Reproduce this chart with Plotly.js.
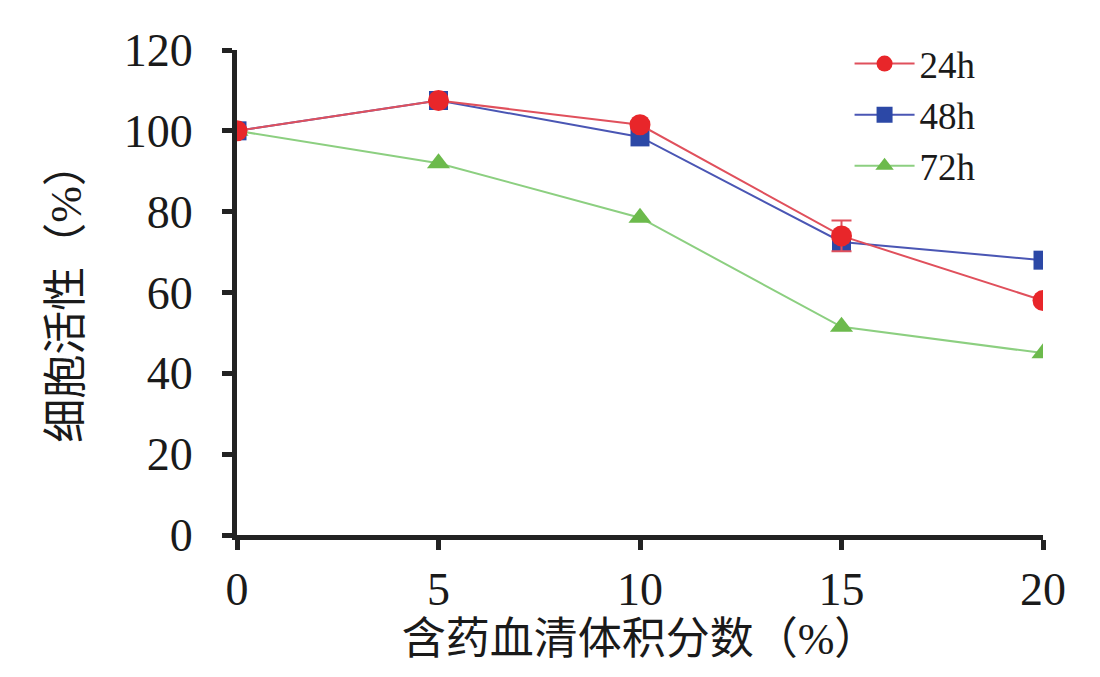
<!DOCTYPE html>
<html>
<head>
<meta charset="utf-8">
<script src="https://cdn.plot.ly/plotly-3.0.1.min.js"></script>
<style>
  html, body { margin: 0; padding: 0; background: #fff; }
  #chart { width: 1100px; height: 677px; }
</style>
</head>
<body>
<div id="chart"></div>
<script>
// serum volume fraction (%)
const doses = [0, 5, 10, 15, 20];
// cell viability (%)
const v24 = [100, 107.5, 101.5, 74, 58];
const v48 = [100, 107.5, 98.5, 72.5, 68];
const v72 = [100, 92, 78.5, 51.5, 45];
const err24 = [0, 0, 0, 3.8, 0];

const serif = '"Liberation Serif", "Noto Sans CJK SC", serif';

const trace24 = {
    name: '24h', x: doses, y: v24, type: 'scatter', mode: 'lines+markers',
    line: { color: '#e0505c', width: 2 },
    marker: { color: '#e8262a', symbol: 'circle', size: 21 },
    error_y: { type: 'data', array: err24, visible: true, color: '#e0505c', thickness: 2, width: 10 },
};
const trace48 = {
    name: '48h', x: doses, y: v48, type: 'scatter', mode: 'lines+markers',
    line: { color: '#4a56b4', width: 2 },
    marker: { color: '#2c48a6', symbol: 'square', size: 19 },
};
const trace72 = {
    name: '72h', x: doses, y: v72, type: 'scatter', mode: 'lines+markers',
    line: { color: '#8ccf80', width: 2 },
    marker: { color: '#6cba4c', symbol: 'triangle-up', size: 20 },
};

const layout = {
    width: 1100, height: 677,
    margin: { l: 237, r: 57, t: 50, b: 142 },
    paper_bgcolor: '#fff', plot_bgcolor: '#fff',
    font: { family: serif, color: '#1a1a1a', size: 40 },
    showlegend: true,
    legend: {
        x: 0.76, y: 1.035, xanchor: 'left', yanchor: 'top',
        traceorder: 'reversed',
        font: { family: serif, size: 37 },
        bgcolor: 'rgba(0,0,0,0)', tracegroupgap: 0, itemwidth: 60,
    },
    xaxis: {
        range: [0, 20], tickvals: doses, ticktext: ['0', '5', '10', '15', '20'],
        showgrid: false, zeroline: false,
        showline: true, linecolor: '#222', linewidth: 5,
        ticks: 'outside', ticklen: 10, tickwidth: 5, tickcolor: '#222',
        tickfont: { family: serif, size: 46 },
        title: { text: '含药血清体积分数（%）', font: { family: serif, size: 44 }, standoff: 2 },
    },
    yaxis: {
        range: [0, 120], tickvals: [0, 20, 40, 60, 80, 100, 120],
        showgrid: false, zeroline: false,
        showline: true, linecolor: '#222', linewidth: 5,
        ticks: 'outside', ticklen: 10, tickwidth: 5, tickcolor: '#222',
        ticklabelstandoff: 20,
        tickfont: { family: serif, size: 46 },
        title: { text: '细胞活性（%）', font: { family: serif, size: 44 }, standoff: 30 },
    },
};

// red drawn last so it sits on top, legend reversed to keep 24h first
Plotly.newPlot('chart', [trace72, trace48, trace24], layout, { displayModeBar: false, responsive: false });
</script>
</body>
</html>
